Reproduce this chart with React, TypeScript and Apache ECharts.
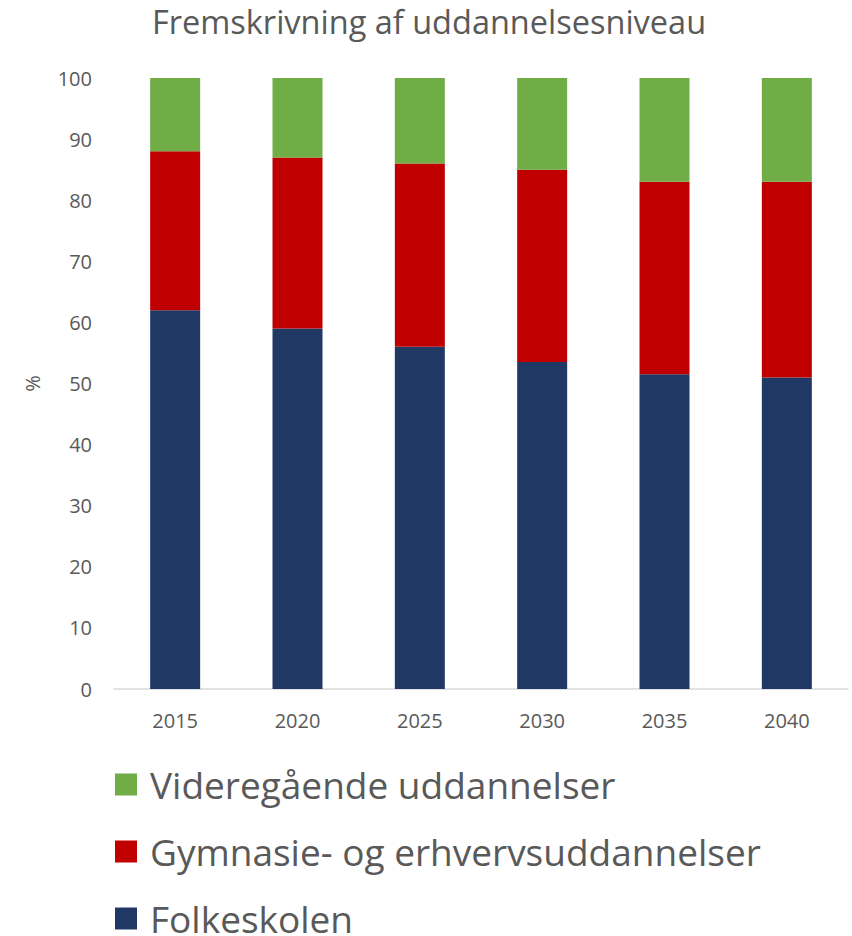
import React, { useEffect, useRef } from "react";
import * as echarts from "echarts";

const categories = ["2015", "2020", "2025", "2030", "2035", "2040"];
const folkeskolen = [62, 59, 56, 53.5, 51.5, 51];
const gymnasie = [26, 28, 30, 31.5, 31.5, 32];
const videregaaende = [12, 13, 14, 15, 17, 17];
const yTicks = { min: 0, max: 100, interval: 10 };

const FONT = "'Open Sans', sans-serif";
const GREY = "#595959";

export default function App() {
  const ref = useRef<HTMLDivElement>(null);
  useEffect(() => {
    if (!ref.current) return;
    const chart = echarts.init(ref.current, null, { renderer: "svg" });
    chart.setOption({
      animation: false,
      backgroundColor: "#ffffff",
      textStyle: { fontFamily: FONT },
      title: {
        text: "Fremskrivning af uddannelsesniveau",
        left: 424,
        textAlign: "center",
        top: 0,
        textStyle: { fontFamily: FONT, fontSize: 32.5, fontWeight: "normal", color: GREY },
      },
      grid: { left: 114, right: 4, top: 78, bottom: 247 },
      legend: {
        orient: "vertical",
        left: 110,
        top: 761,
        height: 300,
        itemWidth: 22,
        itemHeight: 22,
        itemGap: 30,
        icon: "rect",
        data: ["Videregående uddannelser", "Gymnasie- og erhvervsuddannelser", "Folkeskolen"],
        textStyle: { fontFamily: FONT, fontSize: 37, color: GREY, lineHeight: 34, padding: [0, 0, 0, 8] },
      },
      xAxis: {
        type: "category",
        data: categories,
        axisLine: { lineStyle: { color: "#d9d9d9", width: 1.5 } },
        axisTick: { show: false },
        axisLabel: { color: GREY, fontSize: 20, margin: 21, fontFamily: FONT },
      },
      yAxis: {
        type: "value",
        min: yTicks.min,
        max: yTicks.max,
        interval: yTicks.interval,
        name: "%",
        nameLocation: "middle",
        nameRotate: 90,
        nameGap: 72,
        nameTextStyle: { color: GREY, fontSize: 20, fontFamily: FONT },
        splitLine: { show: false },
        axisLine: { show: false },
        axisTick: { show: false },
        axisLabel: { color: GREY, fontSize: 20, margin: 22, fontFamily: FONT },
      },
      series: [
        {
          name: "Folkeskolen",
          type: "bar",
          stack: "a",
          data: folkeskolen,
          barWidth: 50,
          itemStyle: { color: "#203864" },
        },
        {
          name: "Gymnasie- og erhvervsuddannelser",
          type: "bar",
          stack: "a",
          data: gymnasie,
          barWidth: 50,
          itemStyle: { color: "#c00000" },
        },
        {
          name: "Videregående uddannelser",
          type: "bar",
          stack: "a",
          data: videregaaende,
          barWidth: 50,
          itemStyle: { color: "#70ad47" },
        },
      ],
    });
    return () => chart.dispose();
  }, []);
  return <div ref={ref} style={{ width: 852, height: 936, position: "absolute", left: 0, top: 0 }} />;
}
